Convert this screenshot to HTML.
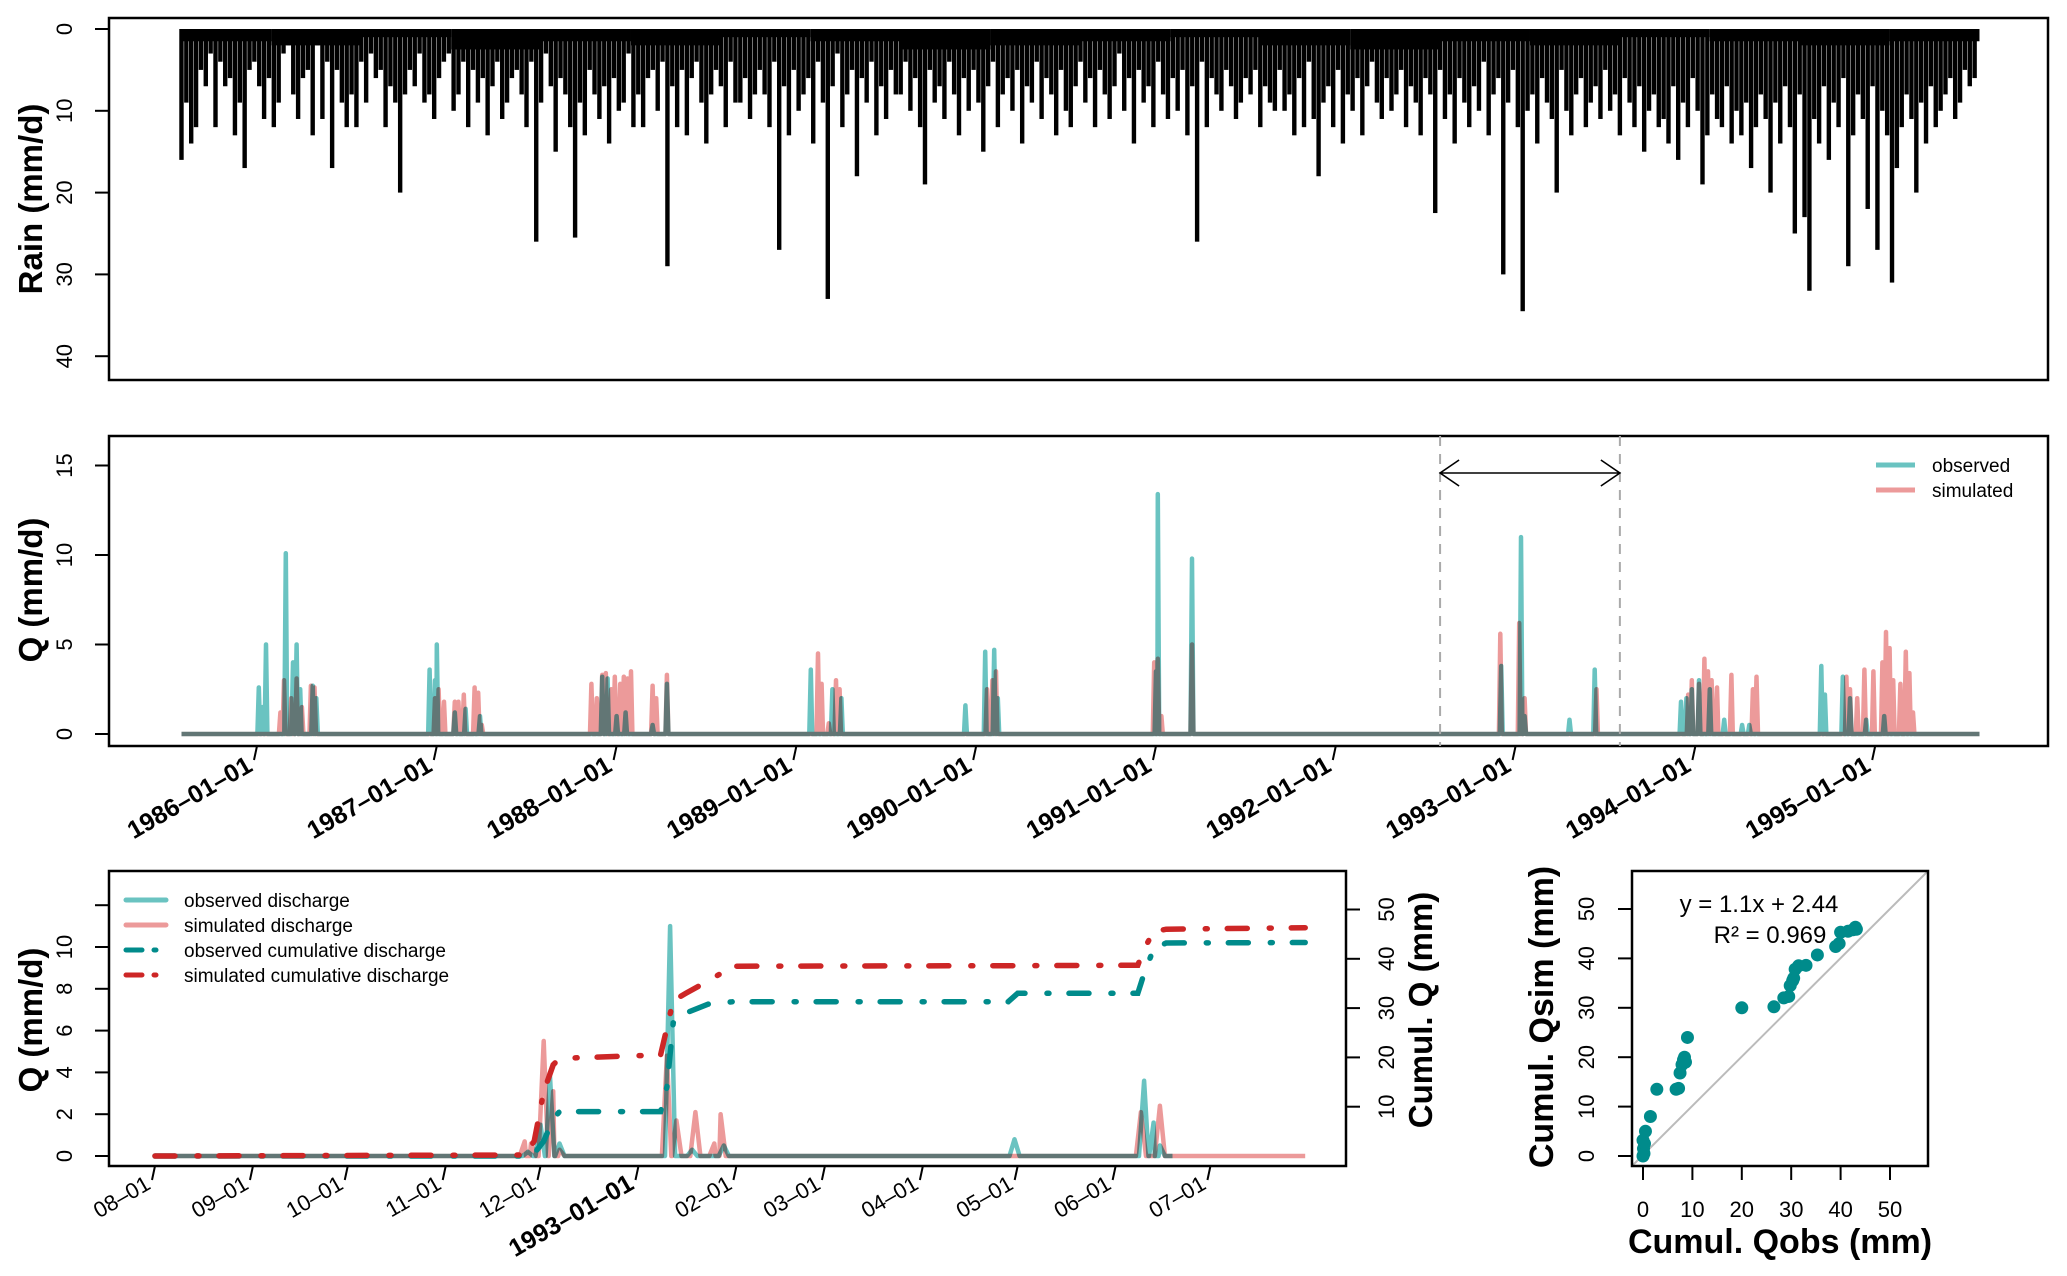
<!DOCTYPE html>
<html><head><meta charset="utf-8"><style>
html,body{margin:0;padding:0;background:#fff;}
svg{display:block;font-family:"Liberation Sans",sans-serif;}
</style></head><body>
<svg id="fig" width="2067" height="1276" viewBox="0 0 2067 1276" xmlns="http://www.w3.org/2000/svg">
<rect width="2067" height="1276" fill="#fff"/>
<g id="rain"></g>
<g id="qp"></g>
<g id="zp"></g>
<g id="sp"></g>
</svg>
<script>
// ---------- data ----------
const rainStart = 1985.58;
const rainSpanYears = 10;
const rainValues = [
16,9,14,12,5,7,3,12,4,7,6,13,9,17,5,4,7,11,6,12,9,3,2,8,11,6,5,13,2,11,4,17,5,9,12,8,12,
4,9,3,6,5,12,7,9,20,8,5,7,3,9,8,11,6,4,3,10,8,4,12,5,9,6,13,7,4,11,9,6,5,8,12,4,26,
9,3,7,15,6,8,12,25.5,9,13,5,8,11,7,14,6,10,9,3,12,8,12,6,5,10,4,29,7,12,5,13,6,4,9,14,8,5,
7,12,4,9,9,6,11,8,5,8,12,4,27,7,13,5,10,8,6,14,4,9,33,7,3,12,8,5,18,6,9,4,13,7,11,5,8,
8,4,10,6,12,19,5,9,7,11,4,8,13,6,10,5,9,15,7,4,12,8,6,10,5,14,7,9,4,11,6,8,13,5,10,12,7,
4,9,6,12,5,8,11,7,3,10,6,14,5,9,7,12,4,8,11,6,10,5,13,7,26,4,12,6,8,10,5,7,11,9,6,8,5,
12,7,9,10,5,10,8,13,6,12,4,11,18,9,7,12,5,14,8,10,6,13,7,4,9,11,6,10,8,5,12,7,9,13,6,8,22.5,
5,11,8,14,6,9,12,7,10,4,13,8,6,30,9,5,12,34.5,10,8,14,6,9,11,20,5,10,13,8,6,12,9,7,11,5,10,8,
13,6,9,12,7,15,10,8,12,11,14,7,16,9,12,6,10,19,13,8,11,12,7,14,10,13,9,17,12,8,11,20,9,14,7,12,25,
8,23,32,11,14,7,16,9,12,6,29,13,8,11,22,7,27,10,13,31,17,12,8,11,20,9,14,7,12,10,8,6,11,9,5,7,6];
const rainBand = [3,4,2,5,3,4,2,3,5,4,3,2,4,5,3,4,2,3,4,3];
const rainTicks = [0,10,20,30,40];

const qObsT = [1986.01,1986.03,1986.05,1986.16,1986.20,1986.22,1986.24,1986.31,1986.33,
1986.96,1986.99,1987.00,1987.10,1987.16,1987.24,
1987.92,1987.95,1988.00,1988.05,1988.20,1988.28,
1989.08,1989.20,1989.25,
1989.94,1990.05,1990.10,1990.12,
1991.00,1991.01,1991.20,
1992.92,1993.03,1993.05,1993.30,1993.44,
1993.92,1993.95,1993.98,1994.02,1994.08,1994.16,1994.26,1994.30,
1994.70,1994.72,1994.82,1994.86,1994.95,1995.05];
const qObsV = [2.6,1.5,5.0,10.1,4.0,5.0,2.5,2.7,2.0,
3.6,3.0,5.0,1.2,1.4,1.0,
3.2,3.1,1.0,1.2,0.5,2.8,
3.6,2.5,2.0,
1.6,4.6,4.7,2.0,
3.5,13.4,9.8,
3.8,11.0,1.0,0.8,3.6,
1.8,2.0,2.5,3.0,2.5,0.8,0.5,0.5,
3.8,2.2,3.2,2.0,0.8,1.0];
const qSimT = [1986.13,1986.15,1986.19,1986.22,1986.25,1986.30,1986.32,
1986.99,1987.01,1987.04,1987.10,1987.12,1987.15,1987.21,1987.23,1987.25,
1987.86,1987.89,1987.92,1987.94,1987.97,1987.99,1988.02,1988.04,1988.06,1988.08,1988.20,1988.22,1988.28,
1989.12,1989.14,1989.18,1989.22,1989.24,
1990.06,1990.09,1990.11,
1990.99,1991.01,1991.03,1991.20,
1992.915,1993.02,1993.05,1993.45,
1993.96,1993.98,1994.02,1994.05,1994.07,1994.09,1994.12,1994.20,1994.32,1994.34,
1994.84,1994.86,1994.90,1994.94,1994.99,1995.04,1995.06,1995.08,1995.10,1995.14,1995.17,1995.19,1995.21];
const qSimV = [1.2,3.0,2.0,3.1,1.5,2.7,2.6,
2.0,2.5,1.8,1.8,1.8,2.2,2.6,2.3,0.5,
2.8,2.0,3.3,3.4,2.5,3.2,2.8,3.2,3.1,3.5,2.7,2.0,3.3,
4.5,2.8,0.6,3.0,2.5,
2.5,3.0,3.5,
4.0,4.2,1.0,5.0,
5.6,6.2,2.0,2.5,
2.2,3.0,2.8,4.2,3.5,3.0,2.6,3.3,2.5,3.2,
3.2,2.5,2.0,3.6,3.5,4.0,5.7,4.8,3.0,2.8,4.6,3.4,1.2];
const qTicks = [0,5,10,15];
const yearLabels = ["1986-01-01","1987-01-01","1988-01-01","1989-01-01","1990-01-01","1991-01-01","1992-01-01","1993-01-01","1994-01-01","1995-01-01"];
const yearTickVals = [1986,1987,1988,1989,1990,1991,1992,1993,1994,1995];

// zoom period (days from 1992-08-01)
const zObsDay = [118,122,125,128,163,170,180,272,313,316,318];
const zObsVal = [0.2,1.5,3.8,0.6,11.0,0.3,0.5,0.8,3.6,1.6,0.5];
const zSimDay = [117,119,123,126,128,162,165,171,177,179,312,318];
const zSimVal = [0.7,0.6,5.5,3.1,0.3,4.8,1.7,2.1,0.6,2.0,2.1,2.4];
const cumDay    = [0,117,120,123,126,128,160,162,164,168,175,183,270,273,311,313,316,320,364];
const cumObs    = [0,0,0.5,3,7.5,9,9,14,27,29,30.8,31.3,31.3,33,33,37,42,43.2,43.3];
const cumSim    = [0,0.2,3,13,18.5,19.8,20.5,26,31.5,33,35.5,38.5,38.6,38.6,38.7,42,45.5,46,46.3];
const monthLabels = ["08-01","09-01","10-01","11-01","12-01","1993-01-01","02-01","03-01","04-01","05-01","06-01","07-01"];
const monthDays = [0,31,61,92,122,153,184,212,243,273,304,334];
const zLeftTicks = [0,2,4,6,8,10,12];
const zRightTicks = [10,20,30,40,50];

const scObs = [0,0.2,0.1,0.3,0,0.5,1.5,2.8,6.7,7.2,7.5,7.9,8.2,8.4,8.6,9,20,26.5,28.5,29.5,29.8,30.3,30.5,30.8,31.5,33,35.3,39,39.7,40,41.5,42.5,43,43.2];
const scSim = [0,0.5,1.5,2.5,3.2,5,8,13.5,13.5,13.7,16.8,18.5,19.5,20,19,24,30,30.2,32,32.3,34.5,35.5,36,37.8,38.5,38.6,40.7,42.4,43,45.3,45.5,45.8,46.3,45.9];
const scTicks = [0,10,20,30,40,50];

// ---------- helpers ----------
const NS = "http://www.w3.org/2000/svg";
function mk(parent, tag, attrs, text){
  const e = document.createElementNS(NS, tag);
  for (const k in attrs) e.setAttribute(k, attrs[k]);
  if (text !== undefined) e.textContent = text;
  parent.appendChild(e);
  return e;
}
const OBS = "rgba(80,184,182,0.85)", SIM = "rgba(230,120,120,0.75)";

// ---------- rain panel ----------
const gR = document.getElementById('rain');
const xY = y => 257 + (y - 1986) * 179.8;
const yRain = v => 29 + v * 8.18;
const rainStep = rainSpanYears / rainValues.length;
rainValues.forEach((v, i) => {
  const x = xY(rainStart + i * rainStep);
  const b = mk(gR, 'rect', {x: x - 2.2, y: yRain(0), width: 4.4, height: yRain(v) - yRain(0), fill: '#000'});
  
  
});
// dense small-rain band near the top
const bandStep = rainSpanYears / rainBand.length;
rainBand.forEach((v, i) => {
  const x0 = xY(rainStart + i * bandStep);
  const b = mk(gR, 'rect', {x: x0, y: yRain(0), width: xY(rainStart + (i+1) * bandStep) - x0, height: yRain(v*0.5) - yRain(0), fill: '#000'});
  
  
});
let e = mk(gR, 'rect', {x:109, y:18, width:1939, height:362, fill:'none', stroke:'#000', 'stroke-width':2.5});
 
rainTicks.forEach(t => {
  const y = yRain(t);
  mk(gR, 'line', {x1:95, x2:109, y1:y, y2:y, stroke:'#000', 'stroke-width':2});
  const l = mk(gR, 'text', {x:0, y:0, transform:`translate(72,${y}) rotate(-90)`, 'text-anchor':'middle', 'font-size':22}, String(t));
   
});
e = mk(gR, 'text', {transform:'translate(42,199) rotate(-90)', 'text-anchor':'middle', 'font-size':33, 'font-weight':'bold'}, 'Rain (mm/d)');
 

// ---------- Q panel ----------
const gQ = document.getElementById('qp');
const yQ = v => 734 - v * 17.9;
function spikePath(ts, vs, t0, t1, w, xf, yf){
  let pts = [[t0,0]];
  ts.forEach((t,i) => { pts.push([t - w, 0]); pts.push([t, vs[i]]); pts.push([t + w, 0]); });
  pts.push([t1,0]);
  pts.sort((a,b)=>a[0]-b[0]);
  return pts.map((p,i)=>(i?'L':'M')+xf(p[0]).toFixed(1)+','+yf(p[1]).toFixed(1)).join('');
}
e = mk(gQ, 'path', {d: spikePath(qObsT, qObsV, 1985.58, 1995.58, 0.008, xY, yQ), fill:'none', stroke:OBS, 'stroke-width':4.5, 'stroke-linejoin':'round'});
 
e = mk(gQ, 'path', {d: spikePath(qSimT, qSimV, 1985.58, 1995.58, 0.008, xY, yQ), fill:'none', stroke:SIM, 'stroke-width':4.5, 'stroke-linejoin':'round', style:'mix-blend-mode:multiply'});
 
e = mk(gQ, 'rect', {x:109, y:436, width:1939, height:310, fill:'none', stroke:'#000', 'stroke-width':2.5});
 
qTicks.forEach(t => {
  const y = yQ(t);
  mk(gQ, 'line', {x1:95, x2:109, y1:y, y2:y, stroke:'#000', 'stroke-width':2});
  const l = mk(gQ, 'text', {transform:`translate(72,${y}) rotate(-90)`, 'text-anchor':'middle', 'font-size':22}, String(t));
   
});
e = mk(gQ, 'text', {transform:'translate(42,590) rotate(-90)', 'text-anchor':'middle', 'font-size':33, 'font-weight':'bold'}, 'Q (mm/d)');
 
yearTickVals.forEach((yv,i) => {
  const x = xY(yv);
  mk(gQ, 'line', {x1:x, x2:x-3, y1:746, y2:760, stroke:'#000', 'stroke-width':2});
  const l = mk(gQ, 'text', {transform:`translate(${x-3},${770}) rotate(-30)`, 'text-anchor':'end', 'font-size':25, 'font-weight':'bold'}, yearLabels[i].replace(/-/g,'\u2013'));
   
});
[1992.58, 1993.58].forEach(yv => {
  const l = mk(gQ, 'line', {x1:xY(yv), x2:xY(yv), y1:436, y2:746, stroke:'#aaa', 'stroke-width':2, 'stroke-dasharray':'10,8'});
   
});
const ax1 = xY(1992.58), ax2 = xY(1993.58);
e = mk(gQ, 'path', {d:`M${ax1},473 L${ax2},473 M${ax1+19},460 L${ax1},473 L${ax1+19},486 M${ax2-19},460 L${ax2},473 L${ax2-19},486`, fill:'none', stroke:'#000', 'stroke-width':1.6});
 
mk(gQ, 'line', {x1:1876, x2:1915, y1:465, y2:465, stroke:OBS, 'stroke-width':5});
mk(gQ, 'line', {x1:1876, x2:1915, y1:490, y2:490, stroke:SIM, 'stroke-width':5});
e = mk(gQ, 'text', {x:1932, y:472, 'font-size':19}, 'observed');  
e = mk(gQ, 'text', {x:1932, y:497, 'font-size':19}, 'simulated');  

// ---------- zoom panel ----------
const gZ = document.getElementById('zp');
const xD = d => 155 + d * 3.16;
const yL = v => 1156 - v * 20.9;
const yC = c => 1156 - c * 4.93;
e = mk(gZ, 'path', {d: spikePath(zObsDay, zObsVal, 0, 322, 1.6, xD, yL), fill:'none', stroke:OBS, 'stroke-width':4.5, 'stroke-linejoin':'round'});
 
e = mk(gZ, 'path', {d: spikePath(zSimDay, zSimVal, 0, 364, 1.6, xD, yL), fill:'none', stroke:SIM, 'stroke-width':4.5, 'stroke-linejoin':'round', style:'mix-blend-mode:multiply'});
 
const cpath = arr => cumDay.map((d,i)=>(i?'L':'M')+xD(d).toFixed(1)+','+yC(arr[i]).toFixed(1)).join('');
e = mk(gZ, 'path', {d:cpath(cumObs), fill:'none', stroke:'#008b8b', 'stroke-width':5.5, 'stroke-dasharray':'20,22,2,20', 'stroke-linecap':'round'});
 
e = mk(gZ, 'path', {d:cpath(cumSim), fill:'none', stroke:'#cd2626', 'stroke-width':5.5, 'stroke-dasharray':'20,22,2,20', 'stroke-linecap':'round'});
 
e = mk(gZ, 'rect', {x:109, y:871, width:1237, height:295, fill:'none', stroke:'#000', 'stroke-width':2.5});
 
zLeftTicks.forEach(t => {
  const y = yL(t);
  mk(gZ, 'line', {x1:95, x2:109, y1:y, y2:y, stroke:'#000', 'stroke-width':2});
  if (t < 12) { const l = mk(gZ, 'text', {transform:`translate(72,${y}) rotate(-90)`, 'text-anchor':'middle', 'font-size':22}, String(t));
    }
});
zRightTicks.forEach(t => {
  const y = yC(t);
  mk(gZ, 'line', {x1:1346, x2:1360, y1:y, y2:y, stroke:'#000', 'stroke-width':2});
  const l = mk(gZ, 'text', {transform:`translate(1394,${y}) rotate(-90)`, 'text-anchor':'middle', 'font-size':22}, String(t));
   
});
e = mk(gZ, 'text', {transform:'translate(42,1020) rotate(-90)', 'text-anchor':'middle', 'font-size':33, 'font-weight':'bold'}, 'Q (mm/d)');
 
e = mk(gZ, 'text', {transform:'translate(1432,1010) rotate(-90)', 'text-anchor':'middle', 'font-size':33, 'font-weight':'bold'}, 'Cumul. Q (mm)');
 
monthDays.forEach((d,i) => {
  const x = xD(d);
  mk(gZ, 'line', {x1:x, x2:x-3, y1:1166, y2:1180, stroke:'#000', 'stroke-width':2});
  const bold = monthLabels[i].length > 5;
  const l = mk(gZ, 'text', {transform:`translate(${x-3},${1188}) rotate(-30)`, 'text-anchor':'end', 'font-size': bold?25:22, 'font-weight': bold?'bold':'normal'}, monthLabels[i].replace(/-/g,'\u2013'));
   
});
const legItems = [['observed discharge',OBS,null],['simulated discharge',SIM,null],['observed cumulative discharge','#008b8b','16,12,2,12'],['simulated cumulative discharge','#cd2626','16,12,2,12']];
legItems.forEach((it,i) => {
  const y = 900 + i * 25;
  const a = {x1:126, x2:166, y1:y, y2:y, stroke:it[1], 'stroke-width':5, 'stroke-linecap':'round'};
  if (it[2]) a['stroke-dasharray'] = it[2];
  mk(gZ, 'line', a);
  const l = mk(gZ, 'text', {x:184, y:y+7, 'font-size':19}, it[0]);
   
});

// ---------- scatter ----------
const gS = document.getElementById('sp');
const xs = v => 1643 + v * 4.94;
const ys = v => 1156 - v * 4.94;
e = mk(gS, 'line', {x1:1632, y1:1166, x2:1928, y2:871, stroke:'#bbb', 'stroke-width':2});
 
scObs.forEach((v,i) => {
  const c = mk(gS, 'circle', {cx:xs(v), cy:ys(scSim[i]), r:6.5, fill:'#008b8b'});
   
});
e = mk(gS, 'rect', {x:1632, y:871, width:296, height:295, fill:'none', stroke:'#000', 'stroke-width':2.5});
 
scTicks.forEach(t => {
  mk(gS, 'line', {x1:1618, x2:1632, y1:ys(t), y2:ys(t), stroke:'#000', 'stroke-width':2});
  let l = mk(gS, 'text', {transform:`translate(1594,${ys(t)}) rotate(-90)`, 'text-anchor':'middle', 'font-size':22}, String(t));
   
  mk(gS, 'line', {x1:xs(t), x2:xs(t), y1:1166, y2:1180, stroke:'#000', 'stroke-width':2});
  l = mk(gS, 'text', {x:xs(t), y:1217, 'text-anchor':'middle', 'font-size':22}, String(t));
   
});
e = mk(gS, 'text', {x:1759, y:912, 'text-anchor':'middle', 'font-size':24}, 'y = 1.1x + 2.44');
 
e = mk(gS, 'text', {x:1770, y:943, 'text-anchor':'middle', 'font-size':24}, 'R\u00B2 = 0.969');
 
e = mk(gS, 'text', {x:1780, y:1253, 'text-anchor':'middle', 'font-size':34, 'font-weight':'bold'}, 'Cumul. Qobs (mm)');
 
e = mk(gS, 'text', {transform:'translate(1553,1017) rotate(-90)', 'text-anchor':'middle', 'font-size':34, 'font-weight':'bold'}, 'Cumul. Qsim (mm)');
 
</script>
</body></html>
